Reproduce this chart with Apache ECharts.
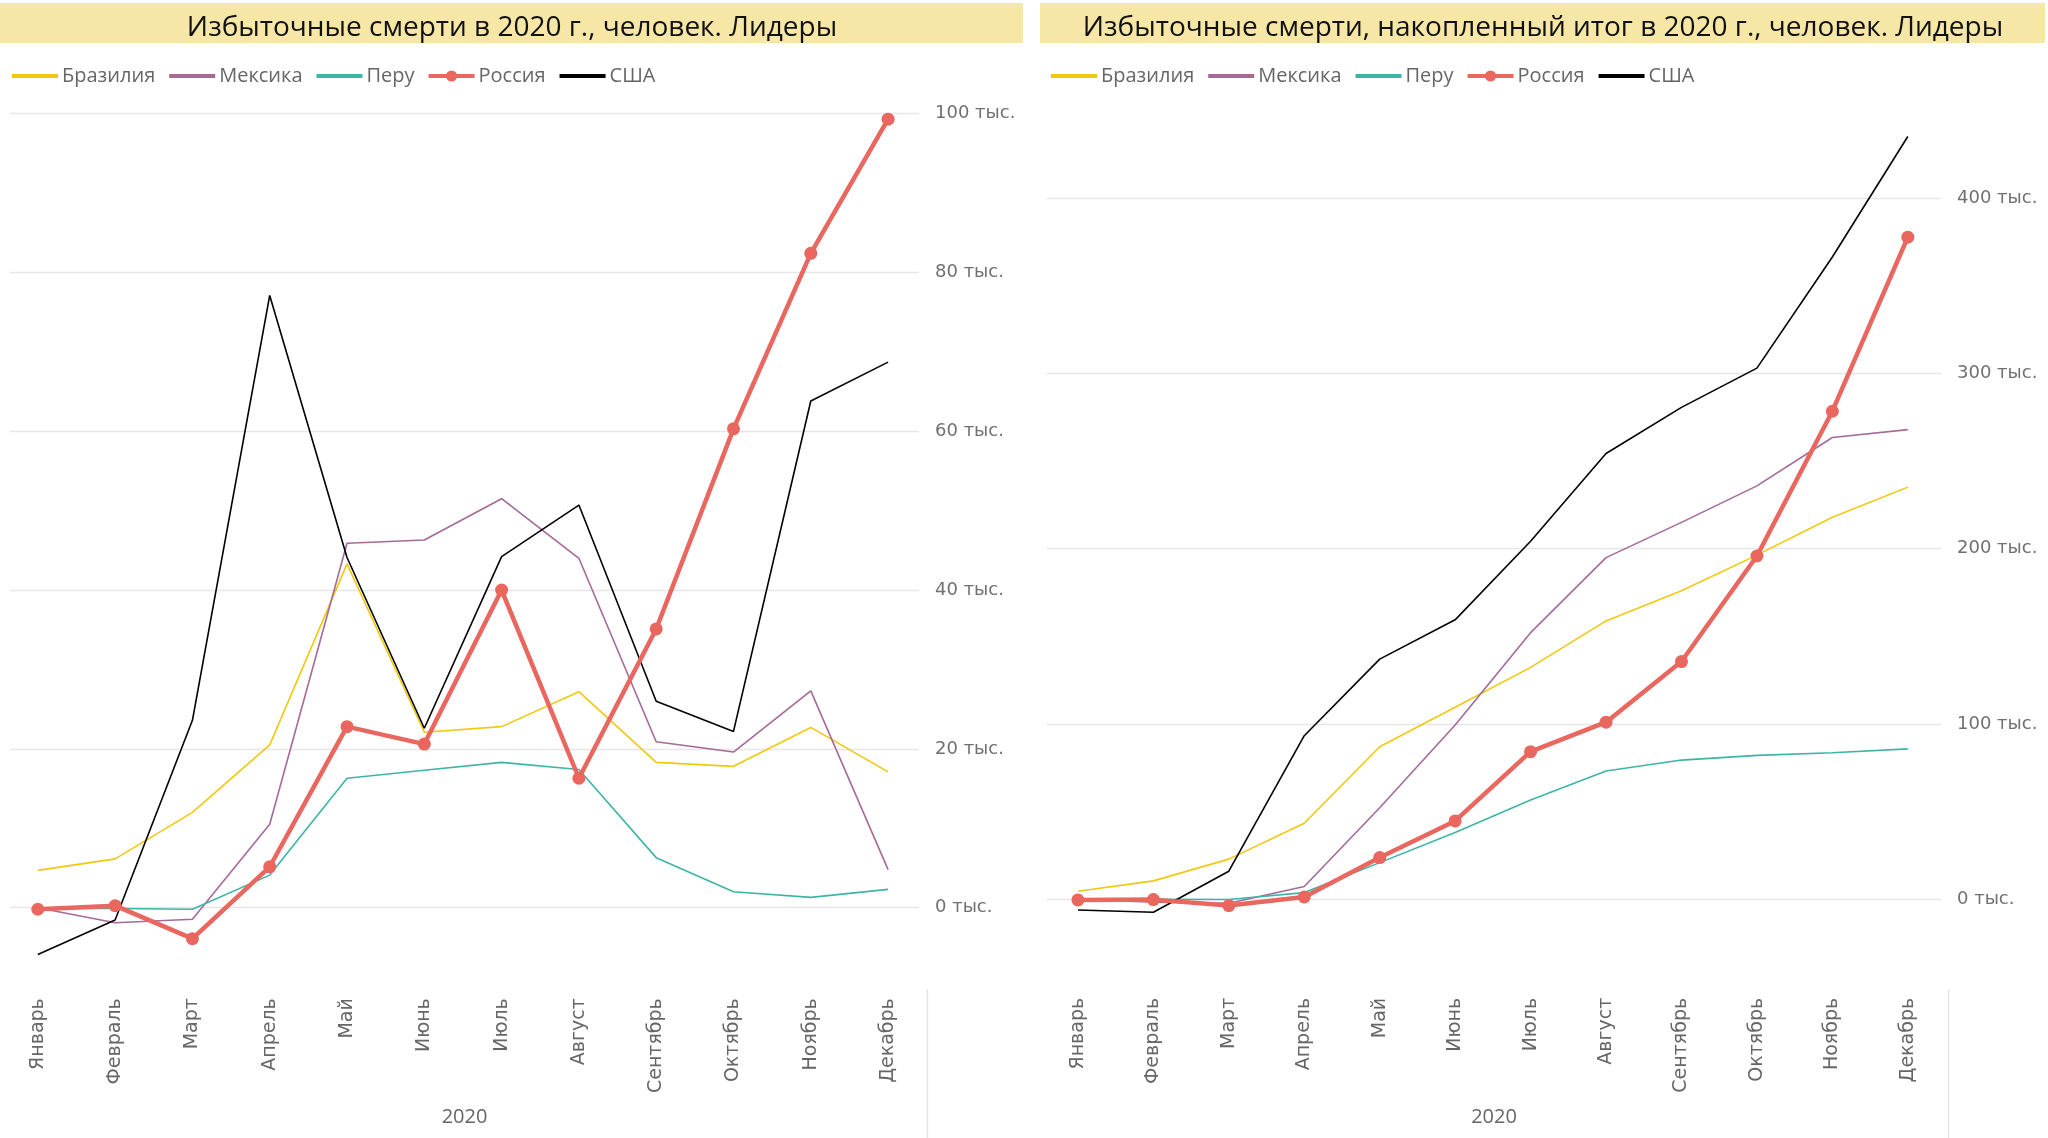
<!DOCTYPE html>
<html><head><meta charset="utf-8">
<script src="https://cdn.jsdelivr.net/npm/echarts@6/dist/echarts.min.js"></script>
<style>html,body{margin:0;padding:0;background:#fff}#c{width:2048px;height:1138px}</style>
</head><body><div id="c"></div>
<script>
// ---- data ----
const months = ['Январь','Февраль','Март','Апрель','Май','Июнь','Июль','Август','Сентябрь','Октябрь','Ноябрь','Декабрь'];
const seriesNames = ['Бразилия','Мексика','Перу','Россия','США'];
const axisName = '2020';
const titleLeft = 'Избыточные смерти в 2020 г., человек. Лидеры';
const titleRight = 'Избыточные смерти, накопленный итог в 2020 г., человек. Лидеры';

// monthly excess deaths, persons
const brazilMonthly = [4700, 6150, 12000, 20500, 43300, 22100, 22800, 27200, 18300, 17800, 22700, 17100];
const mexicoMonthly = [0, -1900, -1450, 10500, 45900, 46300, 51500, 44000, 20900, 19600, 27300, 4800];
const peruMonthly   = [-100, -100, -200, 4100, 16300, 17300, 18300, 17400, 6300, 2000, 1300, 2300];
const russiaMonthly = [-200, 250, -3900, 5150, 22800, 20600, 40000, 16300, 35100, 60300, 82400, 99300];
const usaMonthly    = [-5900, -1550, 23600, 77100, 44100, 22600, 44200, 50700, 26000, 22200, 63800, 68700];

// cumulative excess deaths, persons
const brazilCum = [4600, 10500, 22900, 43400, 87000, 109500, 132300, 158800, 176000, 196300, 217900, 235100];
const mexicoCum = [0, -1700, -2300, 7300, 52200, 99400, 152100, 194900, 215000, 235800, 263400, 267900];
const peruCum   = [0, 0, -100, 3800, 20900, 38100, 56600, 73200, 79400, 82100, 83600, 85800];
const russiaCum = [-400, -200, -3600, 1300, 23800, 44700, 84200, 101000, 135600, 195800, 278400, 377700];
const usaCum    = [-6100, -7400, 16000, 93300, 137000, 159400, 204200, 254300, 280600, 303000, 366400, 435100];

const leftTicks  = [0, 20000, 40000, 60000, 80000, 100000];
const rightTicks = [0, 100000, 200000, 300000, 400000];
const monthTicks = months.map((m, i) => i);

// ---- styles ----
const colors = ['#F2C80F', '#A66999', '#3DB5A6', '#E9675F', '#000000'];
const uiFont = '"Segoe UI", "Open Sans", "Noto Sans", sans-serif';
const axFont = '"DejaVu Sans", Verdana, sans-serif';

function mkSeries(name, arr, idx, ci) {
  const isRu = name === 'Россия';
  return {
    name, type: 'line', xAxisIndex: idx, yAxisIndex: idx,
    data: arr.map((v, i) => [i, v]),
    symbol: isRu ? 'circle' : 'none', symbolSize: isRu ? 13 : 0,
    showSymbol: isRu,
    lineStyle: { width: isRu ? 4.5 : 1.6, color: colors[ci] },
    itemStyle: { color: colors[ci] },
    z: isRu ? 5 : (name === 'США' ? 4 : 3),
    clip: false
  };
}
const leftData = [brazilMonthly, mexicoMonthly, peruMonthly, russiaMonthly, usaMonthly];
const rightData = [brazilCum, mexicoCum, peruCum, russiaCum, usaCum];
const series = [];
seriesNames.forEach((n, i) => series.push(mkSeries(n, leftData[i], 0, i)));
seriesNames.forEach((n, i) => series.push(mkSeries(n, rightData[i], 1, i)));

function xAx(idx, min, max, margin, gap) {
  return {
    type: 'value', gridIndex: idx, min, max,
    axisLine: { show: false }, axisTick: { show: false, customValues: monthTicks },
    splitLine: { show: false },
    axisLabel: { customValues: monthTicks, rotate: 90, margin, color: '#666', fontFamily: axFont, fontSize: 19,
      formatter: v => months[Math.round(v)] },
    name: axisName, nameLocation: 'middle', nameGap: gap,
    nameTextStyle: { color: '#666', fontFamily: uiFont, fontSize: 20, verticalAlign: 'top' }
  };
}
function yAx(idx, min, max, ticks) {
  return {
    type: 'value', gridIndex: idx, position: 'right', min, max,
    axisLine: { show: false }, axisTick: { show: false, customValues: ticks },
    splitLine: { show: true, lineStyle: { color: '#e6e6e6', width: 1.3 } },
    axisLabel: { customValues: ticks, margin: 16, color: '#707070', fontFamily: axFont, fontSize: 18,
      formatter: v => (v / 1000) + ' тыс.' }
  };
}

const legendItems = seriesNames.map(n => n === 'Россия'
  ? { name: n }
  : { name: n, itemStyle: { opacity: 0 } });

const legendCommon = {
  top: 66, padding: 0, itemWidth: 46, itemHeight: 14, itemGap: 12,
  lineStyle: { width: 4 },
  textStyle: { color: '#666', fontFamily: uiFont, fontSize: 20, padding: [0, 0, 0, -1] },
  data: legendItems
};

const chart = echarts.init(document.getElementById('c'), null, { renderer: 'canvas' });
chart.setOption({
  animation: false,
  backgroundColor: '#fff',
  graphic: [
    { type: 'rect', shape: { x: 0, y: 3, width: 1023, height: 40 }, style: { fill: '#F6E7A6' }, z: -10 },
    { type: 'rect', shape: { x: 1040, y: 3, width: 1005, height: 40 }, style: { fill: '#F6E7A6' }, z: -10 },
    { type: 'line', shape: { x1: 927.5, y1: 989, x2: 927.5, y2: 1138 }, style: { stroke: '#e3e3e3', lineWidth: 1.3 } },
    { type: 'line', shape: { x1: 1948.5, y1: 989, x2: 1948.5, y2: 1138 }, style: { stroke: '#e3e3e3', lineWidth: 1.3 } }
  ],
  title: [
    { text: titleLeft, left: 507, top: 23, textAlign: 'center', textVerticalAlign: 'middle',
      textStyle: { color: '#111', fontFamily: uiFont, fontSize: 28, fontWeight: 'normal' } },
    { text: titleRight, left: 1538, top: 23, textAlign: 'center', textVerticalAlign: 'middle',
      textStyle: { color: '#111', fontFamily: uiFont, fontSize: 28, fontWeight: 'normal' } }
  ],
  legend: [
    Object.assign({}, legendCommon, { left: 10 }),
    Object.assign({}, legendCommon, { left: 1049 })
  ],
  grid: [
    { left: 10, width: 909, top: 113.6, height: 857.6 },
    { left: 1047, width: 894, top: 110.4, height: 806.4 }
  ],
  xAxis: [ xAx(0, -0.36, 11.40, 27, 136), xAx(1, -0.41, 11.44, 81, 190) ],
  yAxis: [ yAx(0, -8000, 100000, leftTicks), yAx(1, -10000, 450000, rightTicks) ],
  series
});
</script>
</body></html>
